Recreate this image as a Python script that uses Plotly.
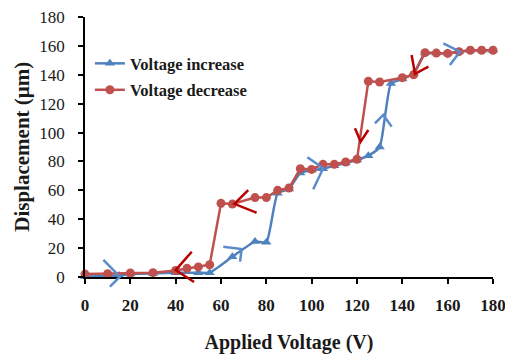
import plotly.graph_objects as go

# ---- data ----
v_inc = [0, 15, 20, 30, 40, 50, 55, 65, 75, 80, 85, 90, 95, 100, 105, 110, 115, 120,
         125, 130, 135, 140, 145, 150, 155, 160, 165, 170, 175, 180]
d_inc = [0.3, 1, 2, 2.5, 3, 3, 3, 14, 24.5, 24, 58, 61, 72, 74, 75, 77, 79, 81,
         84, 90, 134, 137, 141, 155, 155, 155, 156, 157, 157, 157]

v_dec = [0, 10, 20, 30, 40, 45, 50, 55, 60, 65, 75, 80, 85, 90, 95, 100, 105, 110,
         115, 120, 125, 130, 140, 145, 150, 155, 160, 165, 170, 175, 180]
d_dec = [2, 2.3, 2.8, 3, 4.5, 6, 7, 8.5, 51, 50.5, 55, 55, 60, 61.6, 75, 74.5, 78, 78,
         79.6, 81.5, 135.5, 135, 138, 140, 155.3, 155, 154.8, 156, 157, 157, 157]

x_ticks = [0, 20, 40, 60, 80, 100, 120, 140, 160, 180]
y_ticks = [0, 20, 40, 60, 80, 100, 120, 140, 160, 180]

# direction chevrons (arm, tip, arm) in data units
blue_arrows = [
    [(8.1, 11.8), (15.4, 0.2), (11.0, -6.7)],
    [(61.0, 21.0), (69.1, 19.4), (68.4, 10.6)],
    [(98.1, 82.9), (105.1, 75.3), (100.7, 60.7)],
    [(127.9, 106.4), (131.6, 112.2), (135.3, 104.1)],
    [(158.1, 161.8), (165.4, 156.0), (161.0, 146.8)],
]
red_arrows = [
    [(144.1, 153.7), (145.6, 140.6), (151.5, 145.6)],
    [(119.1, 103.0), (121.6, 93.7), (125.0, 101.8)],
    [(72.0, 60.2), (65.9, 50.6), (75.7, 44.5)],
    [(47.1, 17.5), (40.0, 4.8), (48.1, -3.5)],
]

XMAX = 180.0
YMAX = 180.0

BLUE = "#4F81BD"
RED = "#C0504D"
BLUE_ARROW = "#5B8BCB"
RED_ARROW = "#B80000"
SERIF = "Liberation Serif, Times New Roman, serif"
TXT = "#1a1a1a"

fig = go.Figure()
fig.add_trace(go.Scatter(
    x=v_inc, y=d_inc, name="Voltage increase", mode="lines+markers",
    line=dict(color=BLUE, width=2.5, shape="spline", smoothing=0.5),
    marker=dict(symbol="triangle-up", size=9, color=BLUE),
    legendgroup="a", cliponaxis=False,
))
fig.add_trace(go.Scatter(
    x=v_dec, y=d_dec, name="Voltage decrease", mode="lines+markers",
    line=dict(color=RED, width=2.5),
    marker=dict(symbol="circle", size=9, color=RED),
    legendgroup="b", cliponaxis=False,
))

shapes = []
def chevron(pts, color):
    p = " ".join(("M" if i == 0 else "L") + f" {x / XMAX:.5f} {y / YMAX:.5f}"
                 for i, (x, y) in enumerate(pts))
    return dict(type="path", path=p, xref="x domain", yref="y domain",
                line=dict(color=color, width=2.5), layer="above")

for a in blue_arrows:
    shapes.append(chevron(a, BLUE_ARROW))
for a in red_arrows:
    shapes.append(chevron(a, RED_ARROW))

# the page body adds an 8px offset, so the figure is 8px smaller on the leading edges
fig.update_layout(
    width=505, height=348,
    margin=dict(l=77, r=20, t=9, b=79),
    paper_bgcolor="white", plot_bgcolor="white",
    showlegend=True,
    legend=dict(x=0.012, y=0.888, xanchor="left", yanchor="top",
                font=dict(family=SERIF, size=16.5, color=TXT, weight="bold"),
                bgcolor="rgba(0,0,0,0)", tracegroupgap=2, itemwidth=30),
    shapes=shapes,
    annotations=[dict(text="Displacement (μm)", textangle=-90, showarrow=False,
                      xref="paper", yref="paper", x=-0.155, y=0.5,
                      xanchor="center", yanchor="middle",
                      font=dict(family=SERIF, size=21, color=TXT, weight="bold"))],
    xaxis=dict(range=[0, XMAX], tickvals=x_ticks, ticktext=[str(t) for t in x_ticks],
               showgrid=False, zeroline=False, showline=True, linecolor="black",
               linewidth=1.5, ticks="outside", ticklen=5, tickwidth=1.5,
               tickcolor="black", ticklabelstandoff=7, automargin=False,
               ticklabeloverflow="allow",
               tickfont=dict(family=SERIF, size=17, color=TXT, weight="bold"),
               title=dict(text="Applied Voltage (V)", standoff=21,
                          font=dict(family=SERIF, size=20, color=TXT, weight="bold"))),
    yaxis=dict(range=[0, YMAX], tickvals=y_ticks, ticktext=[str(t) for t in y_ticks],
               showgrid=False, zeroline=False, showline=True, linecolor="black",
               linewidth=1.5, ticks="outside", ticklen=5, tickwidth=1.5,
               tickcolor="black", ticklabelstandoff=10, automargin=False,
               ticklabeloverflow="allow",
               tickfont=dict(family=SERIF, size=17, color=TXT)),
)

fig.write_html("out.html")
